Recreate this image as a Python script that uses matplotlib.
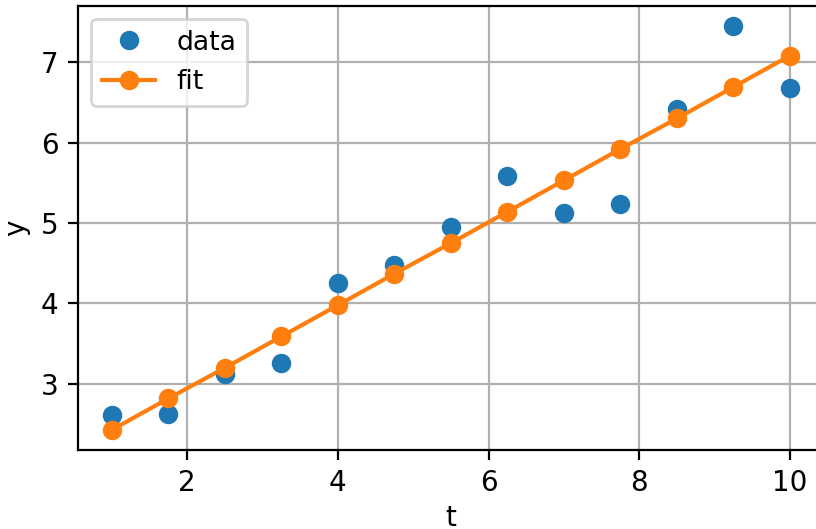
import numpy as np
import matplotlib
matplotlib.use("Agg")
import matplotlib.pyplot as plt

t = [1.0, 1.75, 2.5, 3.25, 4.0, 4.75, 5.5, 6.25, 7.0, 7.75, 8.5, 9.25, 10.0]
y_data = [2.62, 2.63, 3.12, 3.26, 4.25, 4.48, 4.95, 5.58, 5.12, 5.24, 6.42, 7.45, 6.68]
y_fit = [2.43, 2.82, 3.20, 3.59, 3.98, 4.37, 4.75, 5.14, 5.53, 5.92, 6.30, 6.69, 7.08]

fig = plt.figure(figsize=(4.08, 2.645), dpi=200)
ax = fig.add_axes([0.0956, 0.1493, 0.914, 0.840])

ax.plot(t, y_data, 'o', label='data')
ax.plot(t, y_fit, 'o-', label='fit')
ax.set_xlabel('t', labelpad=2.5)
ax.set_ylabel('y')
ax.grid(True)
ax.legend(loc='upper left', fontsize=9.6)

fig.savefig('out.png', dpi=200)
